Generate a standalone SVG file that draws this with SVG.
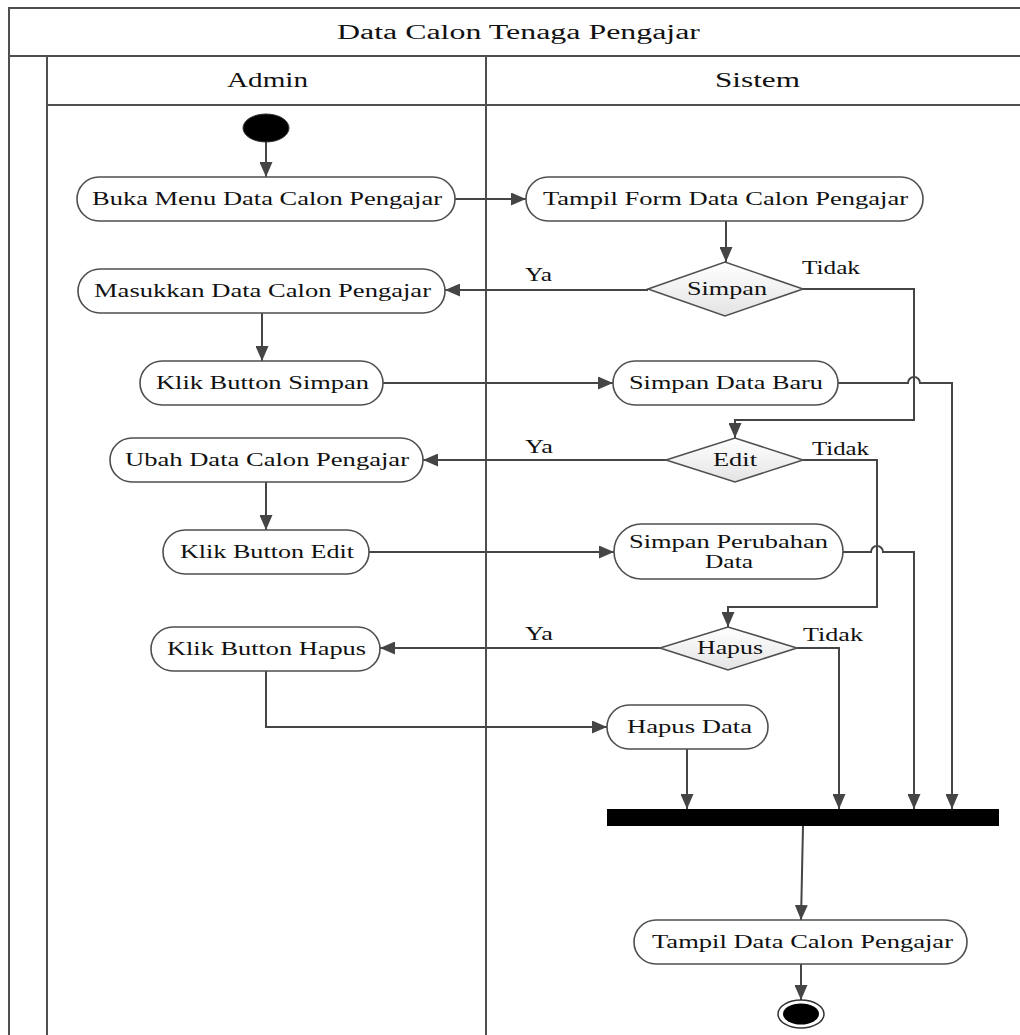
<svg xmlns="http://www.w3.org/2000/svg" width="1020" height="1035" viewBox="0 0 1020 1035">
  <defs>
    <linearGradient id="hdr" x1="0" y1="0" x2="0" y2="1">
      <stop offset="0" stop-color="#ffffff"/>
      <stop offset="1" stop-color="#e9e9e9"/>
    </linearGradient>
    <linearGradient id="gutter" x1="0" y1="0" x2="1" y2="0">
      <stop offset="0" stop-color="#ffffff"/>
      <stop offset="0.6" stop-color="#eeeeee"/>
      <stop offset="1" stop-color="#ececec"/>
    </linearGradient>
    <linearGradient id="dia" x1="0" y1="0" x2="0" y2="1">
      <stop offset="0" stop-color="#ffffff"/>
      <stop offset="1" stop-color="#e4e4e4"/>
    </linearGradient>
    <marker id="arr" markerUnits="userSpaceOnUse" markerWidth="15" markerHeight="13" viewBox="0 0 15 13" refX="15" refY="6.5" orient="auto">
      <path d="M0,0 L15,6.5 L0,13 z" fill="#454545"/>
    </marker>
    <style>
      .frame { fill: none; stroke: #4f4f4f; stroke-width: 2; }
      .act { fill: #ffffff; stroke: #4f4f4f; stroke-width: 1.6; }
      .dec { fill: url(#dia); stroke: #4f4f4f; stroke-width: 1.6; }
      .t { font-family: "Liberation Serif", "Times New Roman", serif; font-size: 18.5px; fill: #111; }
      .h { font-family: "Liberation Serif", "Times New Roman", serif; font-size: 20px; fill: #111; }
      .ca { fill: none; stroke: #454545; stroke-width: 2; marker-end: url(#arr); }
    </style>
  </defs>

  <rect width="1020" height="1035" fill="#ffffff"/>

  <!-- swimlane frame -->
  <g id="swimlanes">
    <rect x="9" y="8" width="1020" height="48" fill="url(#hdr)" class="frame"/>
    <rect x="9" y="56" width="38" height="990" fill="url(#gutter)" class="frame"/>
    <rect x="47" y="56" width="439" height="49" fill="url(#hdr)" class="frame"/>
    <rect x="486" y="56" width="540" height="49" fill="url(#hdr)" class="frame"/>
    <line x1="486" y1="105" x2="486" y2="1040" class="frame"/>
    <text class="h" x="337" y="39" textLength="363" lengthAdjust="spacingAndGlyphs">Data Calon Tenaga Pengajar</text>
    <text class="h" x="227" y="87" textLength="81" lengthAdjust="spacingAndGlyphs">Admin</text>
    <text class="h" x="715" y="87" textLength="85" lengthAdjust="spacingAndGlyphs">Sistem</text>
  </g>

  <!-- connectors -->
  <g id="connectors">
    <line class="ca" x1="266" y1="142" x2="266" y2="177"/>
    <line class="ca" x1="455" y1="199" x2="526" y2="199"/>
    <line class="ca" x1="726" y1="221" x2="726" y2="262"/>
    <line class="ca" x1="648" y1="290" x2="445" y2="290"/>
    <path class="ca" d="M803,289 H914 V420 H735 V438"/>
    <line class="ca" x1="262" y1="313" x2="262" y2="361"/>
    <line class="ca" x1="383" y1="383" x2="613" y2="383"/>
    <path class="ca" d="M838,383 H908 A6,6 0 0 1 920,383 H952 V809"/>
    <line class="ca" x1="666" y1="460" x2="423" y2="460"/>
    <path class="ca" d="M803,460 H877 V607 H728 V627"/>
    <line class="ca" x1="266" y1="482" x2="266" y2="530"/>
    <line class="ca" x1="369" y1="552" x2="614" y2="552"/>
    <path class="ca" d="M843,552 H871 A6,6 0 0 1 883,552 H914 V809"/>
    <line class="ca" x1="660" y1="648" x2="380" y2="648"/>
    <path class="ca" d="M797,648 H839 V809"/>
    <path class="ca" d="M266,671 V727 H607"/>
    <line class="ca" x1="687" y1="749" x2="687" y2="809"/>
    <line class="ca" x1="803" y1="826" x2="801" y2="920"/>
    <line class="ca" x1="801" y1="964" x2="801" y2="1000"/>
    <text class="t" x="525" y="281" textLength="27" lengthAdjust="spacingAndGlyphs">Ya</text>
    <text class="t" x="802" y="274" textLength="58" lengthAdjust="spacingAndGlyphs">Tidak</text>
    <text class="t" x="525" y="453" textLength="28" lengthAdjust="spacingAndGlyphs">Ya</text>
    <text class="t" x="812" y="455" textLength="57" lengthAdjust="spacingAndGlyphs">Tidak</text>
    <text class="t" x="525" y="640" textLength="28" lengthAdjust="spacingAndGlyphs">Ya</text>
    <text class="t" x="803" y="641" textLength="60" lengthAdjust="spacingAndGlyphs">Tidak</text>
  </g>

  <!-- initial node -->
  <g id="start">
    <ellipse cx="266" cy="128" rx="23" ry="14" fill="#000" stroke="#333" stroke-width="1"/>
  </g>

  <!-- Admin activities -->
  <g id="buka-menu">
    <rect class="act" x="77" y="177" width="378" height="44" rx="22" ry="22"/>
    <text class="t" x="92" y="205" textLength="350" lengthAdjust="spacingAndGlyphs">Buka Menu Data Calon Pengajar</text>
  </g>
  <g id="masukkan-data">
    <rect class="act" x="78" y="269" width="367" height="44" rx="22" ry="22"/>
    <text class="t" x="94" y="297" textLength="337" lengthAdjust="spacingAndGlyphs">Masukkan Data Calon Pengajar</text>
  </g>
  <g id="klik-simpan">
    <rect class="act" x="140" y="361" width="243" height="44" rx="22" ry="22"/>
    <text class="t" x="156" y="389" textLength="213" lengthAdjust="spacingAndGlyphs">Klik Button Simpan</text>
  </g>
  <g id="ubah-data">
    <rect class="act" x="110" y="438" width="313" height="44" rx="22" ry="22"/>
    <text class="t" x="125" y="466" textLength="284" lengthAdjust="spacingAndGlyphs">Ubah Data Calon Pengajar</text>
  </g>
  <g id="klik-edit">
    <rect class="act" x="163" y="530" width="206" height="44" rx="22" ry="22"/>
    <text class="t" x="180" y="558" textLength="174" lengthAdjust="spacingAndGlyphs">Klik Button Edit</text>
  </g>
  <g id="klik-hapus">
    <rect class="act" x="151" y="627" width="229" height="44" rx="22" ry="22"/>
    <text class="t" x="167" y="655" textLength="199" lengthAdjust="spacingAndGlyphs">Klik Button Hapus</text>
  </g>

  <!-- Sistem activities and decisions -->
  <g id="tampil-form">
    <rect class="act" x="526" y="177" width="397" height="44" rx="22" ry="22"/>
    <text class="t" x="543" y="205" textLength="365" lengthAdjust="spacingAndGlyphs">Tampil Form Data Calon Pengajar</text>
  </g>
  <g id="dec-simpan">
    <polygon class="dec" points="648,289 725,262 803,289 725,316"/>
    <text class="t" x="687" y="295" textLength="80" lengthAdjust="spacingAndGlyphs">Simpan</text>
  </g>
  <g id="simpan-baru">
    <rect class="act" x="613" y="361" width="225" height="44" rx="22" ry="22"/>
    <text class="t" x="629" y="389" textLength="194" lengthAdjust="spacingAndGlyphs">Simpan Data Baru</text>
  </g>
  <g id="dec-edit">
    <polygon class="dec" points="666,460 735,438 803,460 735,482"/>
    <text class="t" x="713" y="466" textLength="44" lengthAdjust="spacingAndGlyphs">Edit</text>
  </g>
  <g id="simpan-perubahan">
    <rect class="act" x="614" y="524" width="229" height="55" rx="27.5" ry="27.5"/>
    <text class="t" x="629" y="548" textLength="199" lengthAdjust="spacingAndGlyphs">Simpan Perubahan</text>
    <text class="t" x="705" y="568" textLength="48" lengthAdjust="spacingAndGlyphs">Data</text>
  </g>
  <g id="dec-hapus">
    <polygon class="dec" points="660,648 728,627 797,648 728,670"/>
    <text class="t" x="697" y="654" textLength="66" lengthAdjust="spacingAndGlyphs">Hapus</text>
  </g>
  <g id="hapus-data">
    <rect class="act" x="607" y="705" width="161" height="44" rx="22" ry="22"/>
    <text class="t" x="627" y="733" textLength="125" lengthAdjust="spacingAndGlyphs">Hapus Data</text>
  </g>
  <g id="join-bar">
    <rect x="607" y="809" width="392" height="17" fill="#000"/>
  </g>
  <g id="tampil-data">
    <rect class="act" x="634" y="920" width="333" height="44" rx="22" ry="22"/>
    <text class="t" x="652" y="948" textLength="301" lengthAdjust="spacingAndGlyphs">Tampil Data Calon Pengajar</text>
  </g>

  <!-- final node -->
  <g id="end">
    <ellipse cx="801" cy="1014" rx="23" ry="14" fill="#fff" stroke="#333" stroke-width="1.5"/>
    <ellipse cx="801" cy="1014" rx="18" ry="10.5" fill="#000"/>
  </g>
</svg>
